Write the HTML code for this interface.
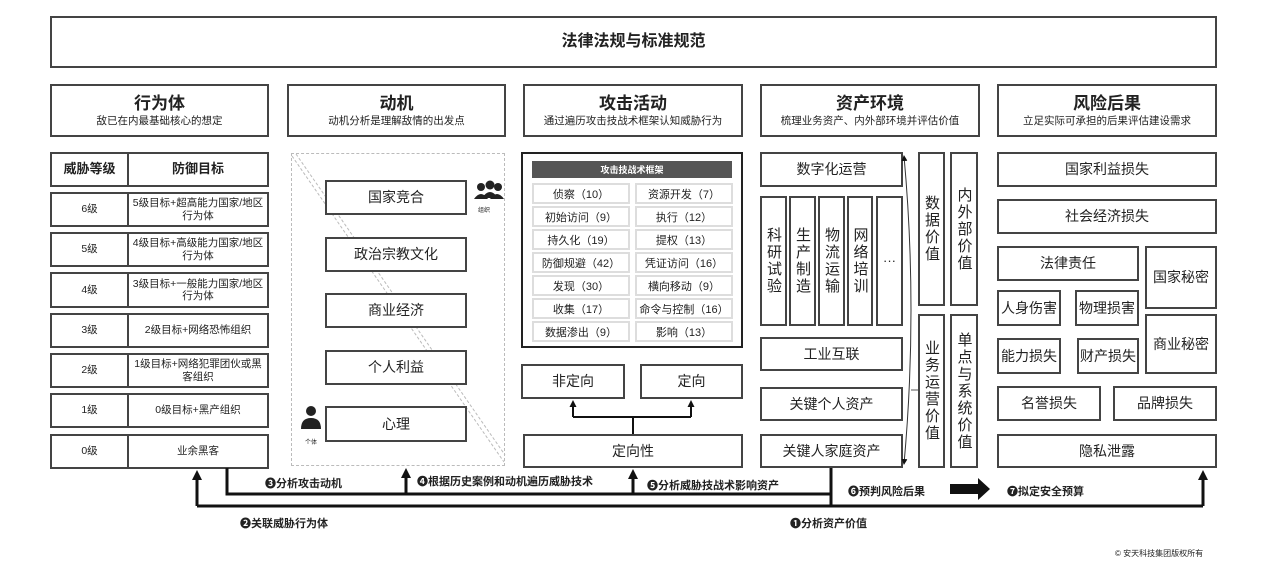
<!DOCTYPE html>
<html><head><meta charset="utf-8"><style>
*{margin:0;padding:0;box-sizing:border-box}
body{width:1270px;height:579px;background:#fff;position:relative;overflow:hidden;font-family:"Liberation Sans","Noto Sans CJK SC",sans-serif;color:#222}
.b{position:absolute;border:2px solid #444;background:#fff;display:flex;align-items:center;justify-content:center;text-align:center;font-size:13px;line-height:1.15}
.h{flex-direction:column}
.h b{font-size:17px}
.h span{font-size:10.5px;margin-top:2px}
.s{font-size:10.5px}
.v{writing-mode:vertical-rl;text-orientation:upright;font-size:15px;letter-spacing:2px;line-height:1}
.c{position:absolute;border:2px solid #ddd;background:#fff;display:flex;align-items:center;justify-content:center;font-size:11px;width:98px;height:21px}
.t{position:absolute;font-size:11px;font-weight:bold;white-space:nowrap}
svg{position:absolute;left:0;top:0}
</style></head><body>
<div class="b" style="left:50px;top:16px;width:1167px;height:52px;font-size:16px;font-weight:bold">法律法规与标准规范</div>

<div class="b h" style="left:50px;top:84px;width:219px;height:53px"><b>行为体</b><span>敌已在内最基础核心的想定</span></div>
<div class="b h" style="left:287px;top:84px;width:219px;height:53px"><b>动机</b><span>动机分析是理解敌情的出发点</span></div>
<div class="b h" style="left:523px;top:84px;width:220px;height:53px"><b>攻击活动</b><span>通过遍历攻击技战术框架认知威胁行为</span></div>
<div class="b h" style="left:760px;top:84px;width:220px;height:53px"><b>资产环境</b><span>梳理业务资产、内外部环境并评估价值</span></div>
<div class="b h" style="left:997px;top:84px;width:220px;height:53px"><b>风险后果</b><span>立足实际可承担的后果评估建设需求</span></div>

<div class="b" style="left:50px;top:152px;width:79px;height:35px;font-weight:bold">威胁等级</div>
<div class="b" style="left:127px;top:152px;width:142px;height:35px;font-weight:bold">防御目标</div>
<div class="b s" style="left:50px;top:192px;width:79px;height:35px">6级</div><div class="b s" style="left:127px;top:192px;width:142px;height:35px">5级目标+超高能力国家/地区<br>行为体</div>
<div class="b s" style="left:50px;top:232px;width:79px;height:35px">5级</div><div class="b s" style="left:127px;top:232px;width:142px;height:35px">4级目标+高级能力国家/地区<br>行为体</div>
<div class="b s" style="left:50px;top:272px;width:79px;height:36px">4级</div><div class="b s" style="left:127px;top:272px;width:142px;height:36px">3级目标+一般能力国家/地区<br>行为体</div>
<div class="b s" style="left:50px;top:313px;width:79px;height:35px">3级</div><div class="b s" style="left:127px;top:313px;width:142px;height:35px">2级目标+网络恐怖组织</div>
<div class="b s" style="left:50px;top:353px;width:79px;height:35px">2级</div><div class="b s" style="left:127px;top:353px;width:142px;height:35px">1级目标+网络犯罪团伙或黑<br>客组织</div>
<div class="b s" style="left:50px;top:393px;width:79px;height:35px">1级</div><div class="b s" style="left:127px;top:393px;width:142px;height:35px">0级目标+黑产组织</div>
<div class="b s" style="left:50px;top:434px;width:79px;height:35px">0级</div><div class="b s" style="left:127px;top:434px;width:142px;height:35px">业余黑客</div>

<div style="position:absolute;left:291px;top:153px;width:214px;height:313px;border:1.5px dashed #bbb"></div>
<svg width="1270" height="579">
<line x1="292" y1="156" x2="504" y2="462" stroke="#bbb" stroke-width="1" stroke-dasharray="3,2"/>
<line x1="296" y1="154" x2="505" y2="455" stroke="#bbb" stroke-width="1" stroke-dasharray="3,2"/>
</svg>
<div class="b" style="left:325px;top:180px;width:142px;height:35px;font-size:14px">国家竞合</div>
<div class="b" style="left:325px;top:237px;width:142px;height:35px;font-size:14px">政治宗教文化</div>
<div class="b" style="left:325px;top:293px;width:142px;height:35px;font-size:14px">商业经济</div>
<div class="b" style="left:325px;top:350px;width:142px;height:35px;font-size:14px">个人利益</div>
<div class="b" style="left:325px;top:406px;width:142px;height:36px;font-size:14px">心理</div>
<svg width="1270" height="579">
<circle cx="481" cy="187" r="4" fill="#222"/><circle cx="490" cy="185" r="4.5" fill="#222"/><circle cx="498" cy="187" r="4" fill="#222"/>
<path d="M474 199 q7-10 14 0 z M482 198 q8-12 16 0 z M490 199 q7-10 14 0z" fill="#222"/>
<circle cx="311" cy="411" r="5" fill="#222"/><path d="M301 429 q0-11 10-11 q10 0 10 11z" fill="#222"/>
</svg>
<div class="t" style="left:478px;top:205px;font-size:6px;font-weight:normal">组织</div>
<div class="t" style="left:305px;top:437px;font-size:6px;font-weight:normal">个体</div>

<div style="position:absolute;left:521px;top:152px;width:222px;height:196px;border:2px solid #222"></div>
<div style="position:absolute;left:532px;top:161px;width:200px;height:17px;background:#555;color:#fff;font-size:9px;font-weight:bold;display:flex;align-items:center;justify-content:center">攻击技战术框架</div>
<div class="c" style="left:532px;top:183px">侦察（10）</div><div class="c" style="left:635px;top:183px">资源开发（7）</div>
<div class="c" style="left:532px;top:206px">初始访问（9）</div><div class="c" style="left:635px;top:206px">执行（12）</div>
<div class="c" style="left:532px;top:229px">持久化（19）</div><div class="c" style="left:635px;top:229px">提权（13）</div>
<div class="c" style="left:532px;top:252px">防御规避（42）</div><div class="c" style="left:635px;top:252px">凭证访问（16）</div>
<div class="c" style="left:532px;top:275px">发现（30）</div><div class="c" style="left:635px;top:275px">横向移动（9）</div>
<div class="c" style="left:532px;top:298px">收集（17）</div><div class="c" style="left:635px;top:298px">命令与控制（16）</div>
<div class="c" style="left:532px;top:321px">数据渗出（9）</div><div class="c" style="left:635px;top:321px">影响（13）</div>
<div class="b" style="left:521px;top:364px;width:104px;height:35px;font-size:14px">非定向</div>
<div class="b" style="left:640px;top:364px;width:103px;height:35px;font-size:14px">定向</div>
<div class="b" style="left:523px;top:434px;width:220px;height:34px;font-size:14px">定向性</div>

<div class="b" style="left:760px;top:152px;width:143px;height:35px;font-size:14px">数字化运营</div>
<div class="b v" style="left:760px;top:196px;width:27px;height:130px">科研试验</div>
<div class="b v" style="left:789px;top:196px;width:27px;height:130px">生产制造</div>
<div class="b v" style="left:818px;top:196px;width:27px;height:130px">物流运输</div>
<div class="b v" style="left:847px;top:196px;width:26px;height:130px">网络培训</div>
<div class="b" style="left:876px;top:196px;width:27px;height:130px">···</div>
<div class="b" style="left:760px;top:337px;width:143px;height:34px;font-size:14px">工业互联</div>
<div class="b" style="left:760px;top:387px;width:143px;height:34px;font-size:14px">关键个人资产</div>
<div class="b" style="left:760px;top:434px;width:143px;height:34px;font-size:14px">关键人家庭资产</div>
<div class="b v" style="left:918px;top:152px;width:27px;height:154px">数据价值</div>
<div class="b v" style="left:950px;top:152px;width:28px;height:154px">内外部价值</div>
<div class="b v" style="left:918px;top:314px;width:27px;height:154px">业务运营价值</div>
<div class="b v" style="left:950px;top:314px;width:28px;height:154px">单点与系统价值</div>

<div class="b" style="left:997px;top:152px;width:220px;height:35px;font-size:14px">国家利益损失</div>
<div class="b" style="left:997px;top:199px;width:220px;height:35px;font-size:14px">社会经济损失</div>
<div class="b" style="left:997px;top:246px;width:142px;height:35px;font-size:14px">法律责任</div>
<div class="b" style="left:1145px;top:246px;width:72px;height:63px;font-size:14px">国家秘密</div>
<div class="b" style="left:997px;top:290px;width:64px;height:36px;font-size:14px">人身伤害</div>
<div class="b" style="left:1075px;top:290px;width:64px;height:36px;font-size:14px">物理损害</div>
<div class="b" style="left:997px;top:338px;width:64px;height:36px;font-size:14px">能力损失</div>
<div class="b" style="left:1077px;top:338px;width:62px;height:36px;font-size:14px">财产损失</div>
<div class="b" style="left:1145px;top:314px;width:72px;height:60px;font-size:14px">商业秘密</div>
<div class="b" style="left:997px;top:386px;width:104px;height:35px;font-size:14px">名誉损失</div>
<div class="b" style="left:1113px;top:386px;width:104px;height:35px;font-size:14px">品牌损失</div>
<div class="b" style="left:997px;top:434px;width:220px;height:34px;font-size:14px">隐私泄露</div>

<svg width="1270" height="579">
<defs><marker id="a" markerUnits="userSpaceOnUse" markerWidth="10" markerHeight="10" refX="2" refY="5" orient="auto"><path d="M0,0 L10,5 L0,10z" fill="#111"/></marker>
<marker id="s" markerUnits="userSpaceOnUse" markerWidth="7" markerHeight="7" refX="2" refY="3.5" orient="auto"><path d="M0,0 L7,3.5 L0,7z" fill="#111"/></marker>
<marker id="m" markerUnits="userSpaceOnUse" markerWidth="6" markerHeight="6" refX="5" refY="3" orient="auto-start-reverse"><path d="M0,0 L6,3 L0,6z" fill="#111"/></marker></defs>
<path d="M633 434 V417 M573 417 H691" stroke="#111" stroke-width="2" fill="none"/>
<line x1="573" y1="417" x2="573" y2="405" stroke="#111" stroke-width="2" marker-end="url(#s)"/>
<line x1="691" y1="417" x2="691" y2="405" stroke="#111" stroke-width="2" marker-end="url(#s)"/>
<path d="M904 156 Q918 310 904 464" stroke="#333" stroke-width="1" fill="none" marker-start="url(#m)" marker-end="url(#m)"/>
<line x1="911" y1="390" x2="918" y2="390" stroke="#555" stroke-width="1"/>
<path d="M197 506 H1203 M831 468 V506 M227 468 V494 H831" stroke="#111" stroke-width="3" fill="none"/>
<line x1="197" y1="506" x2="197" y2="478" stroke="#111" stroke-width="3" marker-end="url(#a)"/>
<line x1="1203" y1="506" x2="1203" y2="478" stroke="#111" stroke-width="3" marker-end="url(#a)"/>
<line x1="406" y1="494" x2="406" y2="476" stroke="#111" stroke-width="3" marker-end="url(#a)"/>
<line x1="633" y1="494" x2="633" y2="477" stroke="#111" stroke-width="3" marker-end="url(#a)"/>
<path d="M950 484 H978 V478 L990 489 L978 500 V494 H950z" fill="#111"/>
</svg>
<div class="t" style="left:265px;top:475px">❸分析攻击动机</div>
<div class="t" style="left:417px;top:473px">❹根据历史案例和动机遍历威胁技术</div>
<div class="t" style="left:647px;top:477px">❺分析威胁技战术影响资产</div>
<div class="t" style="left:848px;top:483px">❻预判风险后果</div>
<div class="t" style="left:1007px;top:483px">❼拟定安全预算</div>
<div class="t" style="left:240px;top:515px">❷关联威胁行为体</div>
<div class="t" style="left:790px;top:515px">❶分析资产价值</div>
<div class="t" style="left:1115px;top:548px;font-size:8px;font-weight:normal">© 安天科技集团版权所有</div>
</body></html>
